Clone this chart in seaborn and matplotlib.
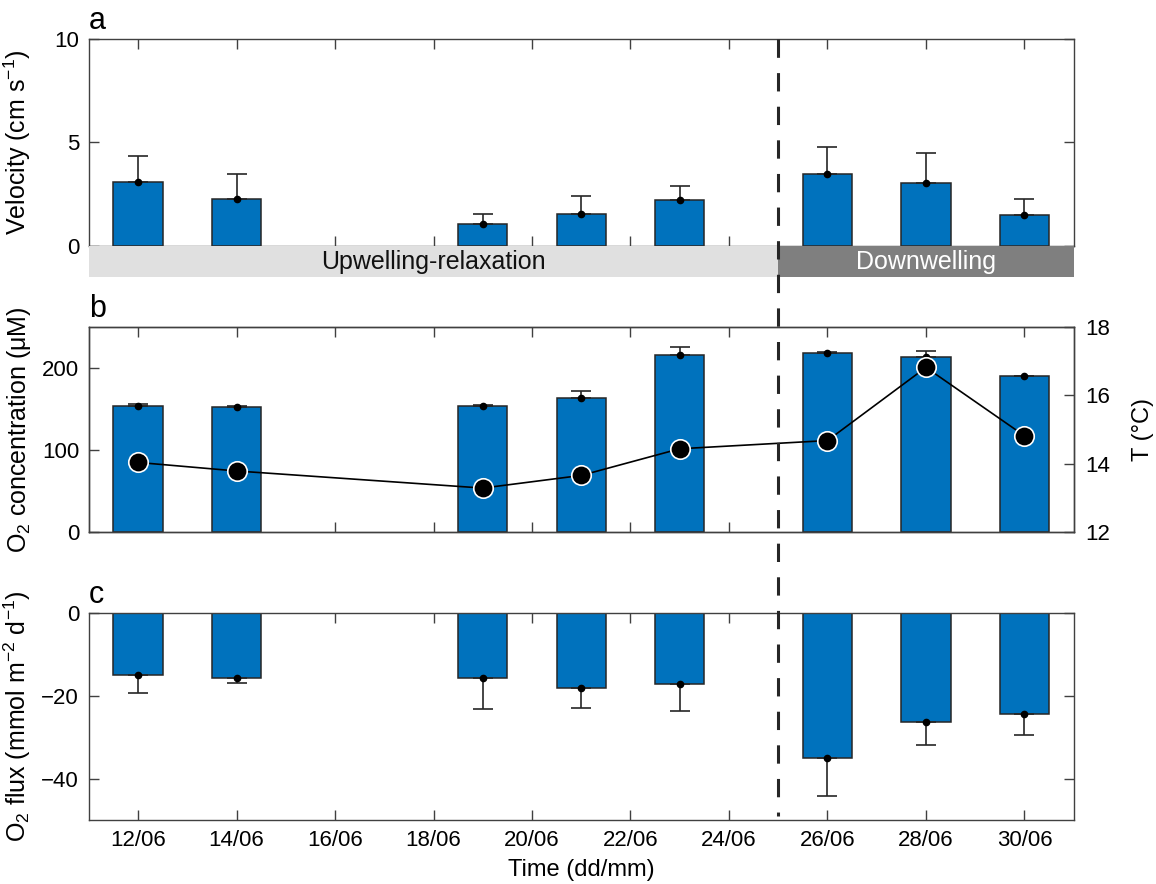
import numpy as np
import pandas as pd
import matplotlib
matplotlib.use("Agg")
import matplotlib.pyplot as plt
from matplotlib.lines import Line2D
import seaborn as sns

# ── Data (day of June) ───────────────────────────────────────────────────
days = [12, 14, 19, 21, 23, 26, 28, 30]

velocity     = [3.08, 2.27, 1.06, 1.53, 2.19, 3.48, 3.03, 1.50]
velocity_err = [4.34, 3.45, 1.53, 2.42, 2.90, 4.79, 4.50, 2.24]   # top of error bar

o2_conc     = [154.3, 153.1, 154.0, 164.0, 215.8, 218.6, 213.3, 190.3]
o2_conc_err = [156.4, 154.0, 155.6, 172.5, 225.9, 219.4, 221.0, 190.5]

temperature = [14.04, 13.79, 13.29, 13.66, 14.44, 14.68, 16.82, 14.82]

o2_flux     = [-15.0, -15.7, -15.7, -18.2, -17.1, -34.9, -26.3, -24.3]
o2_flux_err = [-19.4, -16.8, -23.1, -22.9, -23.7, -44.3, -31.9, -29.5]  # bottom of error bar

tick_days   = [12, 14, 16, 18, 20, 22, 24, 26, 28, 30]
tick_labels = ["12/06", "14/06", "16/06", "18/06", "20/06",
               "22/06", "24/06", "26/06", "28/06", "30/06"]

phases       = ["Upwelling-relaxation", "Downwelling"]
phase_bounds = [11, 25, 31]
phase_colours = ["#E0E0E0", "#7F7F7F"]
phase_text    = ["#111111", "white"]
switch_day = 25

BLUE = "#0072BD"
EDGE = "#262626"

sns.set_style("white")
plt.rcParams["font.family"] = ["Liberation Sans", "DejaVu Sans"]
plt.rcParams["mathtext.fontset"] = "custom"
plt.rcParams["mathtext.rm"] = "Liberation Sans"
plt.rcParams["mathtext.it"] = "Liberation Sans:italic"
plt.rcParams["axes.edgecolor"] = "#404040"
plt.rcParams["axes.linewidth"] = 1.0
plt.rcParams["text.color"] = "black"
plt.rcParams["axes.labelcolor"] = "black"
plt.rcParams["xtick.color"] = "#404040"
plt.rcParams["ytick.color"] = "#404040"
plt.rcParams["xtick.labelcolor"] = "black"
plt.rcParams["ytick.labelcolor"] = "black"

FS_TICK = 16
FS_LAB = 18

fig = plt.figure(figsize=(11.56, 8.84), dpi=100)
L, W = 0.0768, 0.852
ax_a    = fig.add_axes([L, 0.722, W, 0.234])
ax_band = fig.add_axes([L, 0.687, W, 0.035])
ax_b    = fig.add_axes([L, 0.398, W, 0.232])
ax_c    = fig.add_axes([L, 0.0724, W, 0.234])

df = pd.DataFrame({"day": days, "vel": velocity, "o2": o2_conc,
                   "flux": o2_flux, "T": temperature})


def bars(ax, col, err_end):
    sns.barplot(data=df, x="day", y=col, native_scale=True, width=0.5,
                color=BLUE, saturation=1, edgecolor=EDGE, linewidth=1.1,
                errorbar=None, ax=ax, zorder=2)
    vals = np.array(df[col])
    ends = np.array(err_end)
    lower = np.where(ends < vals, vals - ends, 0)
    upper = np.where(ends > vals, ends - vals, 0)
    ax.errorbar(days, vals, yerr=[lower, upper], fmt="o", ms=4.5,
                color="black", ecolor=EDGE, elinewidth=1.2,
                capsize=7, capthick=1.2, zorder=3)


def style(ax, show_labels=False):
    ax.set_xlim(11, 31)
    ax.set_xticks(tick_days)
    ax.set_xticklabels(tick_labels if show_labels else [])
    ax.tick_params(direction="in", length=7, width=1, bottom=True, top=True,
                   left=True, labelsize=FS_TICK, pad=7)
    ax.set_xlabel("")
    for s in ax.spines.values():
        s.set_visible(True)


# a ─ velocity
bars(ax_a, "vel", velocity_err)
style(ax_a)
ax_a.set_ylim(0, 10)
ax_a.set_yticks([0, 5, 10])
ax_a.tick_params(axis="y", right=True)
ax_a.set_ylabel("Velocity (cm s$^{-1}$)", fontsize=FS_LAB)

# band with phases
ax_band.set_xlim(11, 31)
ax_band.set_ylim(0, 1)
for i, name in enumerate(phases):
    x0, x1 = phase_bounds[i], phase_bounds[i + 1]
    ax_band.axvspan(x0, x1, color=phase_colours[i], lw=0)
    ax_band.text((x0 + x1) / 2, 0.47, name, ha="center", va="center",
                 fontsize=FS_LAB, color=phase_text[i])
ax_band.axis("off")

# b ─ O2 concentration + temperature
bars(ax_b, "o2", o2_conc_err)
style(ax_b)
ax_b.set_ylim(0, 250)
ax_b.set_yticks([0, 100, 200])
ax_b.tick_params(axis="y", right=False)
ax_b.set_ylabel("$\\mathregular{O_2}$ concentration (μM)", fontsize=FS_LAB)

ax_t = ax_b.twinx()
sns.lineplot(data=df, x="day", y="T", color="black", lw=1.2, marker="o",
             markersize=14, markerfacecolor="black", markeredgecolor="white",
             markeredgewidth=1.2, ax=ax_t, zorder=4)
ax_t.set_xlim(11, 31)
ax_t.set_ylim(12, 18)
ax_t.set_yticks([12, 14, 16, 18])
ax_t.tick_params(axis="y", direction="in", length=7, width=1, right=True,
                 labelsize=FS_TICK, pad=8)
ax_t.set_ylabel("T (°C)", fontsize=17, labelpad=16)
ax_t.set_xlabel("")

# c ─ O2 flux
bars(ax_c, "flux", o2_flux_err)
style(ax_c, show_labels=True)
ax_c.set_ylim(-50, 0)
ax_c.set_yticks([-40, -20, 0])
ax_c.tick_params(axis="y", right=True)
ax_c.set_ylabel("$\\mathregular{O_2}$ flux (mmol m$^{-2}$ d$^{-1}$)", fontsize=FS_LAB)
ax_c.set_xlabel("Time (dd/mm)", fontsize=17, labelpad=6)

for ax in (ax_a, ax_b, ax_c):
    ax.yaxis.set_label_coords(-0.057, 0.5)

for ax, letter in zip((ax_a, ax_b, ax_c), "abc"):
    ax.text(0.0, 1.05, letter, transform=ax.transAxes, fontsize=22,
            ha="left", va="baseline")

# dashed line marking the regime switch, across all panels
to_fig = fig.transFigure.inverted()
x_top, y_top = to_fig.transform(ax_a.transData.transform((switch_day, 10)))
x_bot, y_bot = to_fig.transform(ax_c.transData.transform((switch_day, -50)))
fig.add_artist(Line2D([x_top, x_bot], [y_top, y_bot + 0.004],
                      transform=fig.transFigure, color="#262626", lw=2.2,
                      dashes=(6, 5), zorder=10))

plt.savefig("out.png", dpi=100)
plt.close()
